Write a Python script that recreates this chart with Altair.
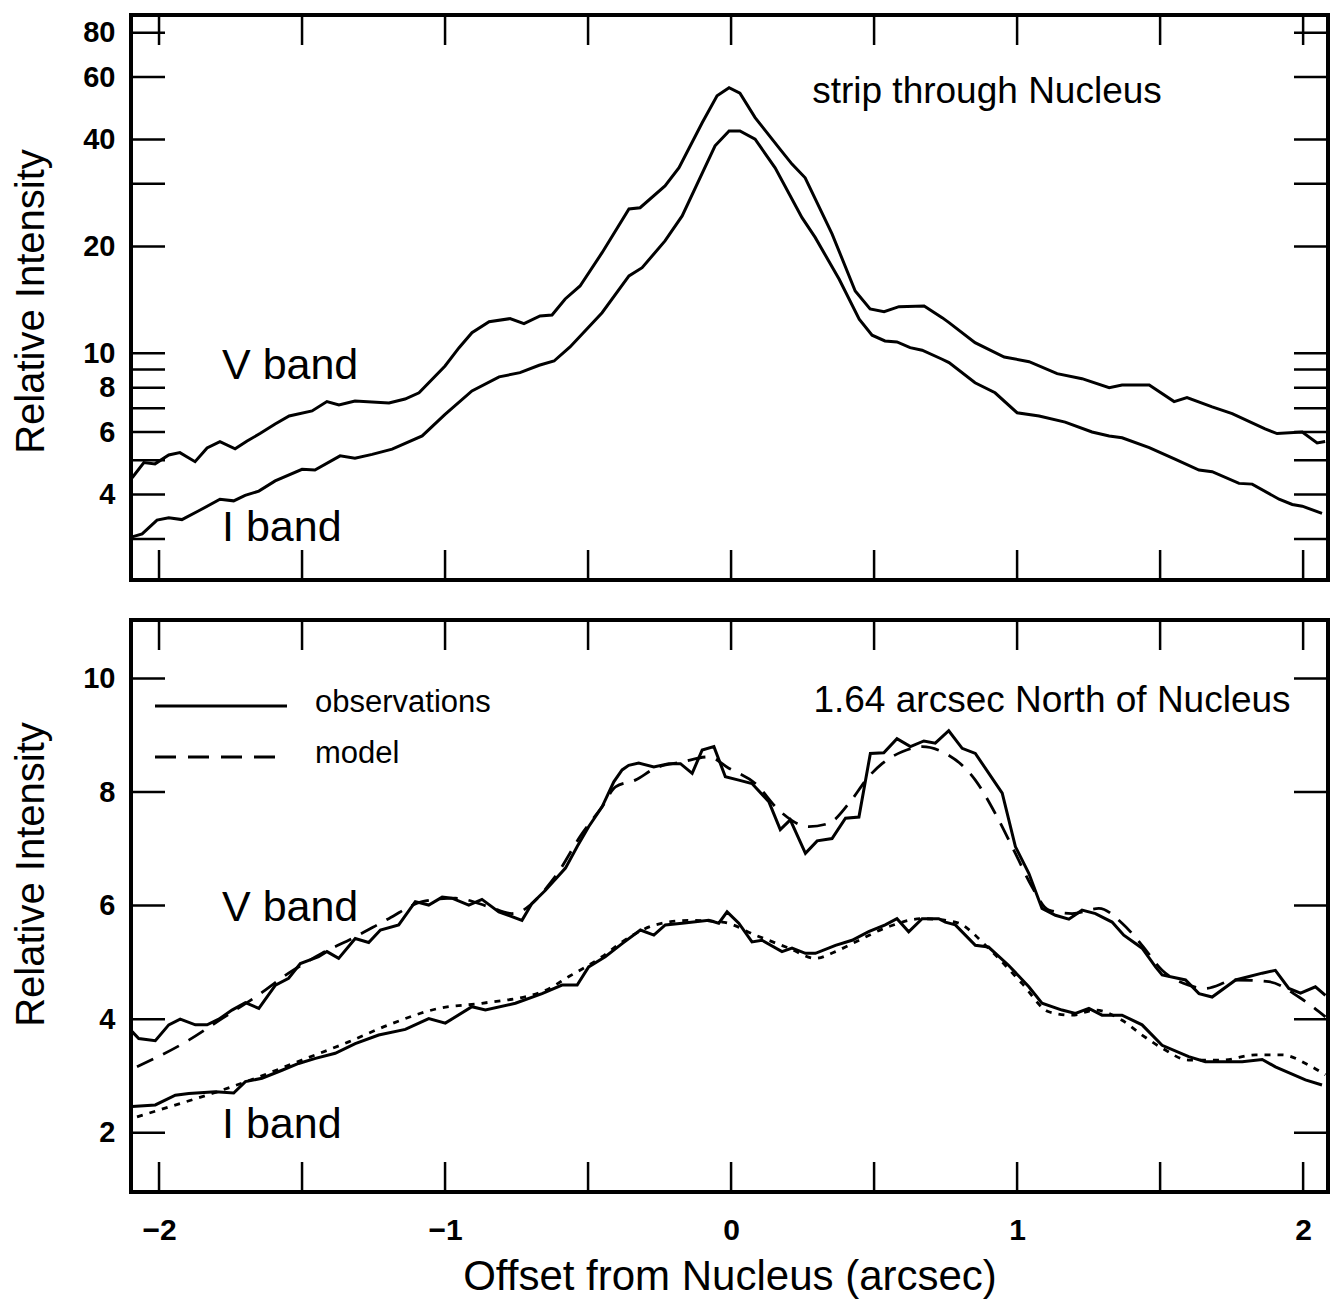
import altair as alt
import pandas as pd

FONT = "Liberation Sans"

# ---------------- data ----------------
# Top panel: strip through nucleus (log y)
TOP_V_X = [-2.094, -2.053, -2.014, -1.966, -1.927, -1.874, -1.832, -1.787, -1.734, -1.692,
           -1.647, -1.594, -1.545, -1.465, -1.413, -1.371, -1.315, -1.196, -1.140, -1.091,
           -1.000, -0.951, -0.906, -0.846, -0.773, -0.724, -0.668, -0.626, -0.580, -0.528,
           -0.451, -0.357, -0.318, -0.231, -0.182, -0.101, -0.049, -0.007, 0.031, 0.084,
           0.171, 0.213, 0.259, 0.353, 0.434, 0.486, 0.535, 0.587, 0.675, 0.738,
           0.762, 0.853, 0.955, 1.042, 1.140, 1.227, 1.322, 1.367, 1.462, 1.549,
           1.594, 1.682, 1.752, 1.867, 1.909, 1.997, 2.049, 2.077]
TOP_V_Y = [4.46, 4.92, 4.88, 5.17, 5.25, 4.95, 5.41, 5.64, 5.38, 5.66,
           5.94, 6.32, 6.66, 6.88, 7.31, 7.15, 7.34, 7.24, 7.43, 7.74,
           9.21, 10.37, 11.43, 12.27, 12.52, 12.12, 12.74, 12.82, 14.22, 15.47,
           19.2, 25.5, 25.7, 29.6, 33.3, 44.6, 53.1, 56.0, 54.0, 46.1,
           37.6, 34.1, 31.2, 21.7, 14.98, 13.33, 13.1, 13.53, 13.59, 12.6,
           12.2, 10.71, 9.76, 9.47, 8.76, 8.48, 8.0, 8.14, 8.14, 7.31,
           7.5, 7.06, 6.76, 6.12, 5.94, 6.0, 5.59, 5.64]

TOP_I_X = [-2.094, -2.059, -2.007, -1.966, -1.920, -1.861, -1.787, -1.739, -1.699, -1.651,
           -1.594, -1.500, -1.455, -1.367, -1.315, -1.255, -1.185, -1.080, -1.000, -0.906,
           -0.811, -0.738, -0.671, -0.619, -0.563, -0.451, -0.357, -0.311, -0.231, -0.171,
           -0.056, -0.007, 0.031, 0.084, 0.154, 0.248, 0.294, 0.378, 0.448, 0.493,
           0.538, 0.580, 0.626, 0.668, 0.738, 0.762, 0.853, 0.923, 1.000, 1.077,
           1.168, 1.262, 1.322, 1.367, 1.462, 1.552, 1.636, 1.682, 1.776, 1.822,
           1.916, 1.962, 1.997, 2.066]
TOP_I_Y = [3.04, 3.10, 3.39, 3.44, 3.40, 3.60, 3.88, 3.84, 3.98, 4.09,
           4.37, 4.71, 4.69, 5.14, 5.06, 5.19, 5.37, 5.85, 6.73, 7.83,
           8.58, 8.82, 9.25, 9.51, 10.42, 13.01, 16.51, 17.42, 20.72, 24.37,
           38.4, 42.3, 42.3, 40.1, 33.3, 24.1, 21.2, 16.16, 12.47, 11.24,
           10.83, 10.76, 10.37, 10.2, 9.62, 9.41, 8.26, 7.74, 6.80, 6.66,
           6.40, 6.00, 5.85, 5.78, 5.42, 5.03, 4.69, 4.64, 4.30, 4.28,
           3.88, 3.75, 3.71, 3.54]

# Bottom panel: 1.64 arcsec North of nucleus (linear y)
BOT_V_OBS_X = [-2.094, -2.071, -2.013, -1.966, -1.926, -1.873, -1.832, -1.791, -1.745, -1.698,
               -1.651, -1.593, -1.547, -1.506, -1.442, -1.413, -1.372, -1.314, -1.267, -1.226,
               -1.162, -1.104, -1.057, -1.010, -0.976, -0.917, -0.871, -0.812, -0.731, -0.696,
               -0.649, -0.579, -0.538, -0.498, -0.451, -0.410, -0.381, -0.358, -0.323, -0.270,
               -0.218, -0.177, -0.136, -0.101, -0.060, -0.020, 0.027, 0.073, 0.132, 0.172,
               0.207, 0.260, 0.301, 0.353, 0.400, 0.447, 0.487, 0.534, 0.580, 0.627,
               0.674, 0.714, 0.761, 0.808, 0.854, 0.948, 0.994, 1.041, 1.087, 1.134,
               1.181, 1.227, 1.274, 1.332, 1.373, 1.437, 1.484, 1.507, 1.589, 1.636,
               1.682, 1.764, 1.857, 1.903, 1.950, 1.991, 2.043, 2.078]
BOT_V_OBS_Y = [3.78, 3.66, 3.62, 3.90, 4.00, 3.90, 3.90, 4.00, 4.16, 4.29,
               4.19, 4.60, 4.72, 4.98, 5.10, 5.19, 5.07, 5.42, 5.35, 5.57,
               5.66, 6.07, 6.01, 6.15, 6.13, 6.01, 6.11, 5.89, 5.74, 6.04,
               6.27, 6.66, 7.04, 7.39, 7.74, 8.18, 8.39, 8.47, 8.51, 8.44,
               8.50, 8.50, 8.33, 8.74, 8.80, 8.27, 8.21, 8.15, 7.83, 7.34,
               7.51, 6.92, 7.14, 7.18, 7.54, 7.56, 8.68, 8.69, 8.94, 8.80,
               8.90, 8.86, 9.08, 8.77, 8.68, 7.98, 7.04, 6.57, 5.95, 5.83,
               5.76, 5.92, 5.86, 5.71, 5.48, 5.25, 4.92, 4.78, 4.69, 4.45,
               4.39, 4.69, 4.81, 4.86, 4.54, 4.46, 4.57, 4.42]

BOT_V_MOD_X = [-2.077, -1.896, -1.780, -1.663, -1.547, -1.430, -1.314, -1.197, -1.080, -0.964,
               -0.847, -0.766, -0.615, -0.521, -0.451, -0.404, -0.335, -0.265, -0.171, -0.078,
               -0.008, 0.085, 0.167, 0.272, 0.342, 0.412, 0.481, 0.528, 0.598, 0.668,
               0.738, 0.854, 0.924, 0.994, 1.052, 1.111, 1.192, 1.286, 1.367, 1.437,
               1.507, 1.600, 1.658, 1.764, 1.880, 1.985, 2.078]
BOT_V_MOD_Y = [3.16, 3.63, 4.01, 4.39, 4.81, 5.16, 5.45, 5.77, 6.07, 6.13,
               5.98, 5.86, 6.51, 7.27, 7.74, 8.09, 8.21, 8.42, 8.53, 8.62,
               8.42, 8.15, 7.68, 7.39, 7.45, 7.80, 8.27, 8.50, 8.71, 8.80,
               8.71, 8.21, 7.62, 6.92, 6.33, 5.92, 5.86, 5.95, 5.69, 5.30,
               4.86, 4.60, 4.54, 4.69, 4.66, 4.39, 4.04]

BOT_I_OBS_X = [-2.094, -2.013, -1.943, -1.896, -1.803, -1.739, -1.698, -1.640, -1.570, -1.512,
               -1.453, -1.384, -1.314, -1.232, -1.139, -1.057, -0.999, -0.906, -0.859, -0.754,
               -0.661, -0.591, -0.538, -0.498, -0.440, -0.381, -0.317, -0.270, -0.230, -0.171,
               -0.078, -0.043, -0.014, 0.027, 0.073, 0.108, 0.178, 0.213, 0.260, 0.295,
               0.365, 0.423, 0.481, 0.539, 0.580, 0.621, 0.668, 0.726, 0.749, 0.784,
               0.854, 0.900, 0.970, 1.041, 1.087, 1.157, 1.204, 1.251, 1.297, 1.367,
               1.437, 1.507, 1.600, 1.658, 1.787, 1.857, 1.903, 2.008, 2.066]
BOT_I_OBS_Y = [2.46, 2.49, 2.66, 2.69, 2.72, 2.70, 2.90, 2.96, 3.10, 3.22,
               3.31, 3.40, 3.57, 3.72, 3.82, 4.01, 3.93, 4.22, 4.16, 4.28,
               4.45, 4.60, 4.60, 4.92, 5.10, 5.33, 5.57, 5.48, 5.66, 5.69,
               5.74, 5.69, 5.89, 5.69, 5.36, 5.39, 5.19, 5.25, 5.16, 5.16,
               5.30, 5.39, 5.54, 5.66, 5.77, 5.54, 5.77, 5.77, 5.71, 5.66,
               5.30, 5.27, 4.95, 4.57, 4.28, 4.16, 4.10, 4.19, 4.07, 4.07,
               3.90, 3.54, 3.34, 3.25, 3.25, 3.29, 3.16, 2.93, 2.84]

BOT_I_MOD_X = [-2.077, -1.955, -1.815, -1.663, -1.500, -1.337, -1.197, -1.022, -0.871, -0.661,
               -0.567, -0.451, -0.381, -0.265, -0.148, -0.031, 0.085, 0.202, 0.295, 0.365,
               0.435, 0.551, 0.668, 0.784, 0.900, 1.017, 1.111, 1.192, 1.274, 1.367,
               1.437, 1.507, 1.600, 1.717, 1.834, 1.927, 2.020, 2.078]
BOT_I_MOD_Y = [2.28, 2.47, 2.69, 2.96, 3.28, 3.60, 3.90, 4.19, 4.28, 4.48,
               4.75, 5.10, 5.36, 5.66, 5.74, 5.71, 5.48, 5.25, 5.07, 5.19,
               5.36, 5.63, 5.77, 5.71, 5.25, 4.63, 4.13, 4.07, 4.16, 3.98,
               3.72, 3.49, 3.28, 3.28, 3.37, 3.37, 3.19, 3.02]

# axes
X_DOMAIN = [-2.098, 2.087]
TOP_Y_DOMAIN = [2.298, 89.7]
BOT_Y_DOMAIN = [0.956, 11.03]
X_TICKS = [-2, -1.5, -1, -0.5, 0, 0.5, 1, 1.5, 2]
X_LABELS = [-2, -1, 0, 1, 2]
TOP_Y_TICKS = [3, 4, 5, 6, 7, 8, 9, 10, 20, 30, 40, 60, 80]
TOP_Y_LABELS = [4, 6, 8, 10, 20, 40, 60, 80]
BOT_Y_TICKS = [2, 4, 6, 8, 10]

# texts
Y_TITLE = "Relative Intensity"
X_TITLE = "Offset from Nucleus (arcsec)"
TOP_NOTE = ["strip through Nucleus"]
BOT_NOTE = ["1.64 arcsec North of Nucleus"]
V_LABEL = ["V band"]
I_LABEL = ["I band"]
LEG_OBS = ["observations"]
LEG_MOD = ["model"]

# ---------------- layout ----------------
W, H1, H2 = 1197, 565, 572
XT_LEN, YT_LEN = 30, 34
BLACK = "black"

xs = alt.Scale(domain=X_DOMAIN, nice=False, zero=False)
ys_top = alt.Scale(type="log", domain=TOP_Y_DOMAIN, nice=False)
ys_bot = alt.Scale(domain=BOT_Y_DOMAIN, nice=False, zero=False)


def yaxis(values, title_y):
    return alt.Axis(values=values, ticks=False, domain=False, grid=False, format="d",
                    labelFontSize=29, labelFontWeight="bold", labelPadding=16,
                    labelOverlap=False, labelFlush=False,
                    title=Y_TITLE, titleFontSize=40, titleFontWeight="normal",
                    titlePadding=31, titleY=title_y)


X_AXIS_BOTTOM = alt.Axis(values=X_LABELS, ticks=False, domain=False, grid=False,
                         labelFontSize=30, labelFontWeight="bold", labelPadding=23,
                         labelFlush=False, labelOverlap=False,
                         title=X_TITLE, titleFontSize=42, titleFontWeight="normal",
                         titlePadding=11)
X_AXIS_NONE = alt.Axis(values=X_LABELS, ticks=False, domain=False, grid=False,
                       labels=False, title=None)
Y_AXIS_TOP = yaxis(TOP_Y_LABELS, 286)
Y_AXIS_BOT = yaxis(BOT_Y_TICKS, 254)


def series(xv, yv, name):
    return pd.DataFrame({"x": xv, "y": yv, "band": name})


def tick_layers(yscale, ytick_vals, H, xaxis, yaxis_obj):
    xd = pd.DataFrame({"x": X_TICKS})
    yd = pd.DataFrame({"y": ytick_vals})
    r = dict(color=BLACK, strokeWidth=2.5)
    xenc = alt.X("x:Q", scale=xs, axis=xaxis)
    yenc = alt.Y("y:Q", scale=yscale, axis=yaxis_obj)
    return [
        alt.Chart(xd).mark_rule(**r).encode(x=xenc, y=alt.value(0), y2=alt.value(XT_LEN)),
        alt.Chart(xd).mark_rule(**r).encode(x=xenc, y=alt.value(H), y2=alt.value(H - XT_LEN)),
        alt.Chart(yd).mark_rule(**r).encode(y=yenc, x=alt.value(0), x2=alt.value(YT_LEN)),
        alt.Chart(yd).mark_rule(**r).encode(y=yenc, x=alt.value(W), x2=alt.value(W - YT_LEN)),
    ]


def text(label, x, y, size, align="left"):
    return alt.Chart(pd.DataFrame({"t": label})).mark_text(
        font=FONT, fontSize=size, align=align, baseline="alphabetic", color=BLACK
    ).encode(text="t:N", x=alt.value(x), y=alt.value(y))


# ---- top panel ----
top_df = pd.concat([series(TOP_V_X, TOP_V_Y, "V"), series(TOP_I_X, TOP_I_Y, "I")])
top_lines = alt.Chart(top_df).mark_line(color=BLACK, strokeWidth=3, clip=True).encode(
    x=alt.X("x:Q", scale=xs, axis=X_AXIS_NONE),
    y=alt.Y("y:Q", scale=ys_top, axis=Y_AXIS_TOP),
    detail="band:N",
)
top = alt.layer(
    top_lines,
    *tick_layers(ys_top, TOP_Y_TICKS, H1, X_AXIS_NONE, Y_AXIS_TOP),
    text(TOP_NOTE, 856, 88, 37, "center"),
    text(V_LABEL, 91, 364, 43),
    text(I_LABEL, 91, 526, 43),
).properties(width=W, height=H1)

# ---- bottom panel ----
obs_df = pd.concat([series(BOT_V_OBS_X, BOT_V_OBS_Y, "V"), series(BOT_I_OBS_X, BOT_I_OBS_Y, "I")])
bot_obs = alt.Chart(obs_df).mark_line(color=BLACK, strokeWidth=3, clip=True).encode(
    x=alt.X("x:Q", scale=xs, axis=X_AXIS_BOTTOM),
    y=alt.Y("y:Q", scale=ys_bot, axis=Y_AXIS_BOT),
    detail="band:N",
)
bot_vmod = alt.Chart(series(BOT_V_MOD_X, BOT_V_MOD_Y, "V")).mark_line(
    color=BLACK, strokeWidth=2.8, strokeDash=[18, 11], interpolate="monotone", clip=True
).encode(x=alt.X("x:Q", scale=xs, axis=X_AXIS_BOTTOM),
         y=alt.Y("y:Q", scale=ys_bot, axis=Y_AXIS_BOT))
bot_imod = alt.Chart(series(BOT_I_MOD_X, BOT_I_MOD_Y, "I")).mark_line(
    color=BLACK, strokeWidth=2.8, strokeDash=[6, 7], interpolate="monotone", clip=True
).encode(x=alt.X("x:Q", scale=xs, axis=X_AXIS_BOTTOM),
         y=alt.Y("y:Q", scale=ys_bot, axis=Y_AXIS_BOT))

one = pd.DataFrame({"k": [0]})
leg_solid = alt.Chart(one).mark_rule(color=BLACK, strokeWidth=2.8).encode(
    x=alt.value(24), x2=alt.value(156), y=alt.value(86))
leg_dash = alt.Chart(one).mark_rule(color=BLACK, strokeWidth=2.8, strokeDash=[21, 12]).encode(
    x=alt.value(24), x2=alt.value(150), y=alt.value(137))

bottom = alt.layer(
    bot_obs, bot_vmod, bot_imod,
    *tick_layers(ys_bot, BOT_Y_TICKS, H2, X_AXIS_BOTTOM, Y_AXIS_BOT),
    leg_solid, leg_dash,
    text(LEG_OBS, 184, 92, 31),
    text(LEG_MOD, 184, 143, 31),
    text(BOT_NOTE, 921, 92, 37, "center"),
    text(V_LABEL, 91, 301, 43),
    text(I_LABEL, 91, 518, 43),
).properties(width=W, height=H2)

chart = alt.vconcat(top, bottom, spacing=32).configure(
    font=FONT,
    padding={"left": 9, "top": 11, "right": 5, "bottom": 5},
).configure_view(
    stroke=BLACK, strokeWidth=4
).configure_axis(
    labelFont=FONT, titleFont=FONT, labelColor=BLACK, titleColor=BLACK
)

chart.save("out.html", embed_options={"renderer": "svg", "actions": False})
